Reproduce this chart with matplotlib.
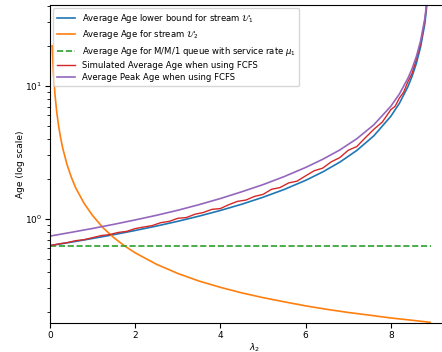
import matplotlib
matplotlib.use("Agg")
import matplotlib.pyplot as plt

# values
lam = [0, 0.5, 1, 1.5, 2, 2.5, 3, 3.5, 4, 4.5, 5, 5.5, 6, 6.4, 6.8, 7.2,
       7.6, 8.0, 8.2, 8.4, 8.5, 8.6, 8.7, 8.8, 8.9]
age_lower = [0.630, 0.669, 0.713, 0.762, 0.819, 0.884, 0.960, 1.050, 1.158,
             1.290, 1.455, 1.667, 1.950, 2.255, 2.670, 3.270, 4.213, 5.910,
             7.395, 9.870, 11.85, 14.82, 19.77, 29.67, 59.37]
age_peak = [0.743, 0.793, 0.848, 0.911, 0.983, 1.065, 1.162, 1.281, 1.424,
            1.600, 1.811, 2.084, 2.438, 2.807, 3.297, 4.006, 5.098, 7.033,
            8.689, 11.40, 13.51, 16.67, 21.94, 32.34, 62.93]

lam_o = [0.05, 0.08, 0.12, 0.16, 0.2, 0.25, 0.3, 0.4, 0.5, 0.6, 0.8, 1.0,
         1.25, 1.5, 1.75, 2.0, 2.5, 3.0, 3.5, 4.0, 4.5, 5.0, 5.5, 6.0, 6.5,
         7.0, 7.5, 8.0, 8.5, 8.92]
age_u2 = [20.06, 12.56, 8.39, 6.30, 5.06, 4.06, 3.39, 2.56, 2.06, 1.72, 1.31,
          1.06, 0.855, 0.722, 0.627, 0.556, 0.456, 0.389, 0.341, 0.306, 0.278,
          0.256, 0.238, 0.222, 0.209, 0.198, 0.189, 0.180, 0.173, 0.167]

lam_mm1 = [0, 8.95]
age_mm1 = [0.63, 0.63]

lam_sim = [0.0, 0.2, 0.4, 0.6, 0.8, 1.0, 1.2, 1.4, 1.6, 1.8, 2.0, 2.2, 2.4,
           2.6, 2.8, 3.0, 3.2, 3.4, 3.6, 3.8, 4.0, 4.2, 4.4, 4.6, 4.8, 5.0,
           5.2, 5.4, 5.6, 5.8, 6.0, 6.2, 6.4, 6.6, 6.8, 7.0, 7.2, 7.4, 7.6,
           7.8, 8.0, 8.1, 8.2, 8.3, 8.4, 8.5, 8.6, 8.7, 8.8, 8.9]
age_sim = [0.630, 0.648, 0.663, 0.686, 0.698, 0.723, 0.749, 0.763, 0.791,
           0.806, 0.846, 0.869, 0.891, 0.937, 0.959, 1.011, 1.024, 1.084,
           1.118, 1.180, 1.197, 1.281, 1.355, 1.387, 1.477, 1.529, 1.671,
           1.721, 1.865, 1.924, 2.108, 2.302, 2.409, 2.685, 2.889, 3.283,
           3.501, 4.074, 4.716, 5.350, 6.631, 7.03, 8.098, 8.963, 10.76,
           12.44, 16.01, 20.76, 31.45, 61.7]

fig = plt.figure(figsize=(4.42, 3.52), dpi=100)
ax = fig.add_axes([50 / 442, 29 / 352, 409 / 442, 318 / 352])

ax.plot(lam, age_lower, color="C0", lw=1.2,
        label=r"Average Age lower bound for stream $\mathcal{U}_1$")
ax.plot(lam_o, age_u2, color="C1", lw=1.2,
        label=r"Average Age for stream $\mathcal{U}_2$")
ax.plot(lam_mm1, age_mm1, color="C2", lw=1.2, ls="--",
        label=r"Average Age for M/M/1 queue with service rate $\mu_1$")
ax.plot(lam_sim, age_sim, color="C3", lw=1.0,
        label="Simulated Average Age when using FCFS")
ax.plot(lam, age_peak, color="C4", lw=1.2,
        label="Average Peak Age when using FCFS")

ax.set_yscale("log")
ax.set_xlim(0, 9.6)
ax.set_ylim(0.165, 40.6)
ax.set_xticks([0, 2, 4, 6, 8])
ax.tick_params(labelsize=6.5, pad=2)
ax.set_xlabel(r"$\lambda_2$", fontsize=6.5, labelpad=1)
ax.set_ylabel("Age (log scale)", fontsize=6.5, labelpad=0)
ax.legend(loc="upper left", fontsize=6.1, labelspacing=0.4,
          handlelength=2.2, borderaxespad=0.4)

fig.savefig("out.png", dpi=100)
